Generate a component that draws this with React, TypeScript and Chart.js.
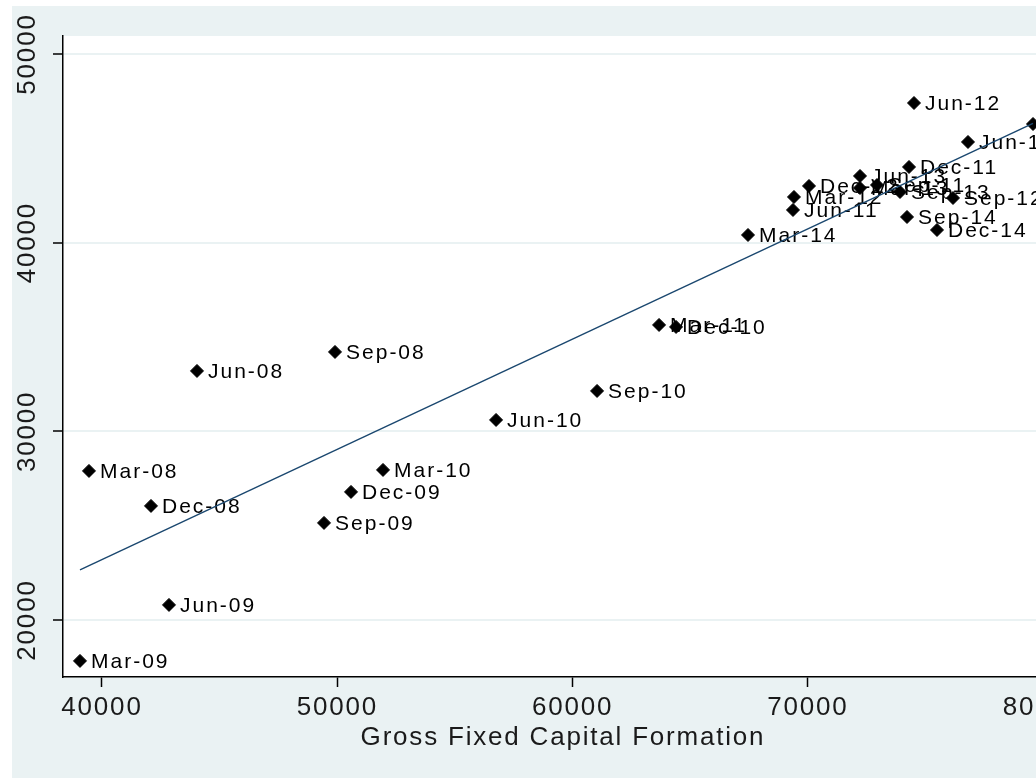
import React, { useEffect, useRef } from 'react';
import { Chart, registerables } from 'chart.js';

Chart.register(...registerables);

// Quarter labels for each point
const pointLabels = [
  'Mar-08', 'Jun-08', 'Sep-08', 'Dec-08',
  'Mar-09', 'Jun-09', 'Sep-09', 'Dec-09',
  'Mar-10', 'Jun-10', 'Sep-10', 'Dec-10',
  'Mar-11', 'Jun-11', 'Sep-11', 'Dec-11',
  'Mar-12', 'Jun-12', 'Sep-12', 'Dec-12',
  'Mar-13', 'Jun-13', 'Sep-13', 'Dec-13',
  'Mar-14', 'Jun-14', 'Sep-14', 'Dec-14',
];

// Gross Fixed Capital Formation (x)
const gfcfValues = [
  39447, 44037, 49902, 42082,
  39065, 42847, 49435, 50582,
  51942, 56745, 61037, 64394,
  63672, 69363, 72934, 74294,
  69405, 74506, 76163, 70044,
  72211, 72211, 73911, 79563,
  67452, 76800, 74209, 75483,
];

// Vertical variable (y)
const yValues = [
  27901, 33201, 34208, 26047,
  17832, 20800, 25146, 26789,
  27954, 30604, 32141, 35533,
  35639, 41733, 43058, 44012,
  42422, 47403, 42369, 43005,
  42899, 43535, 42687, 46290,
  40408, 45337, 41362, 40673,
];

// Linear fit end points
const fitX = [39065, 79563];
const fitY = [22655, 46321];

const xTicks = [40000, 50000, 60000, 70000, 80000];
const yTicks = [20000, 30000, 40000, 50000];
const xRange = [38343, 80837];
const yRange = [16979, 50954];
const xTitle = 'Gross Fixed Capital Formation';

const FONT = '"Liberation Sans", Arial, Helvetica, sans-serif';
const BG = '#eaf2f3';

export default function App() {
  const canvasRef = useRef<HTMLCanvasElement | null>(null);

  useEffect(() => {
    const canvas = canvasRef.current;
    if (!canvas) return;

    const customPlugin = {
      id: 'stataLook',
      beforeLayout(chart: any) {
        chart.ctx.letterSpacing = '1.8px';
      },
      beforeDraw(chart: any) {
        const { ctx, chartArea: a } = chart;
        ctx.letterSpacing = '1.8px';
        ctx.save();
        ctx.fillStyle = '#ffffff';
        ctx.fillRect(a.left, a.top, a.right - a.left, a.bottom - a.top);
        ctx.restore();
      },
      afterDatasetDraw(chart: any, args: any) {
        if (args.index !== 1) return;
        const { ctx } = chart;
        const meta = chart.getDatasetMeta(1);
        ctx.save();
        ctx.font = `21px ${FONT}`;
        ctx.letterSpacing = '2px';
        ctx.fillStyle = '#000';
        ctx.textAlign = 'left';
        ctx.textBaseline = 'middle';
        meta.data.forEach((el: any, i: number) => {
          ctx.fillText(pointLabels[i], el.x + 11, el.y + 1);
        });
        ctx.restore();
      },
      afterDraw(chart: any) {
        const { ctx, chartArea: a } = chart;
        const ys = chart.scales.y;
        ctx.save();
        ctx.font = `26px ${FONT}`;
        ctx.letterSpacing = '1.8px';
        ctx.fillStyle = '#1a1a1a';
        ctx.textAlign = 'center';
        ctx.textBaseline = 'alphabetic';
        ys.ticks.forEach((t: any) => {
          const py = ys.getPixelForValue(t.value);
          ctx.save();
          ctx.translate(a.left - 28, py);
          ctx.rotate(-Math.PI / 2);
          ctx.fillText(String(t.value), 0, 0);
          ctx.restore();
        });
        ctx.restore();
      },
    };

    const chart = new Chart(canvas, {
      type: 'scatter',
      data: {
        datasets: [
          {
            label: 'Fitted values',
            data: fitX.map((x, i) => ({ x, y: fitY[i] })),
            showLine: true,
            borderColor: '#1a476f',
            borderWidth: 1.4,
            pointRadius: 0,
            fill: false,
          },
          {
            label: 'Points',
            data: gfcfValues.map((x, i) => ({ x, y: yValues[i] })),
            pointStyle: 'rectRot',
            pointRadius: 6.5,
            pointBackgroundColor: '#000',
            pointBorderColor: '#000',
            pointBorderWidth: 1,
            showLine: false,
          },
        ],
      },
      options: {
        animation: false,
        responsive: false,
        maintainAspectRatio: false,
        layout: { padding: { top: 30, right: 69, left: 0, bottom: 0 } },
        plugins: {
          legend: { display: false },
          tooltip: { enabled: false },
        },
        scales: {
          x: {
            type: 'linear',
            min: xRange[0],
            max: xRange[1],
            afterBuildTicks: (s: any) => {
              s.ticks = xTicks.map((v) => ({ value: v }));
            },
            afterFit: (s: any) => {
              s.height = 101;
            },
            grid: {
              drawOnChartArea: false,
              drawTicks: true,
              tickLength: 10,
              tickColor: '#000',
              tickWidth: 1.5,
            },
            border: { display: true, color: '#000', width: 1.5 },
            ticks: {
              color: '#1a1a1a',
              font: { family: FONT, size: 26 },
              padding: 5,
              maxRotation: 0,
              minRotation: 0,
              autoSkip: false,
              callback: (v: any) => String(v),
            },
            title: {
              display: true,
              text: xTitle,
              color: '#1a1a1a',
              font: { family: FONT, size: 26 },
              padding: { top: 0, bottom: 25 },
            },
          },
          y: {
            type: 'linear',
            min: yRange[0],
            max: yRange[1],
            afterBuildTicks: (s: any) => {
              s.ticks = yTicks.map((v) => ({ value: v }));
            },
            afterFit: (s: any) => {
              s.width = 51;
            },
            grid: {
              color: BG,
              lineWidth: 2,
              drawTicks: true,
              tickLength: 10,
              tickColor: '#000',
              tickWidth: 1.5,
            },
            border: { display: true, color: '#000', width: 1.5 },
            ticks: { display: false },
          },
        },
      },
      plugins: [customPlugin],
    });

    return () => {
      chart.destroy();
    };
  }, []);

  return (
    <div
      style={{
        position: 'absolute',
        left: 0,
        top: 0,
        width: 1036,
        height: 778,
        overflow: 'hidden',
        background: '#ffffff',
      }}
    >
      <div
        style={{
          position: 'absolute',
          left: 12,
          top: 6,
          width: 1120,
          height: 772,
          background: BG,
        }}
      >
        <canvas ref={canvasRef} width={1120} height={772} style={{ display: 'block' }} />
      </div>
    </div>
  );
}
